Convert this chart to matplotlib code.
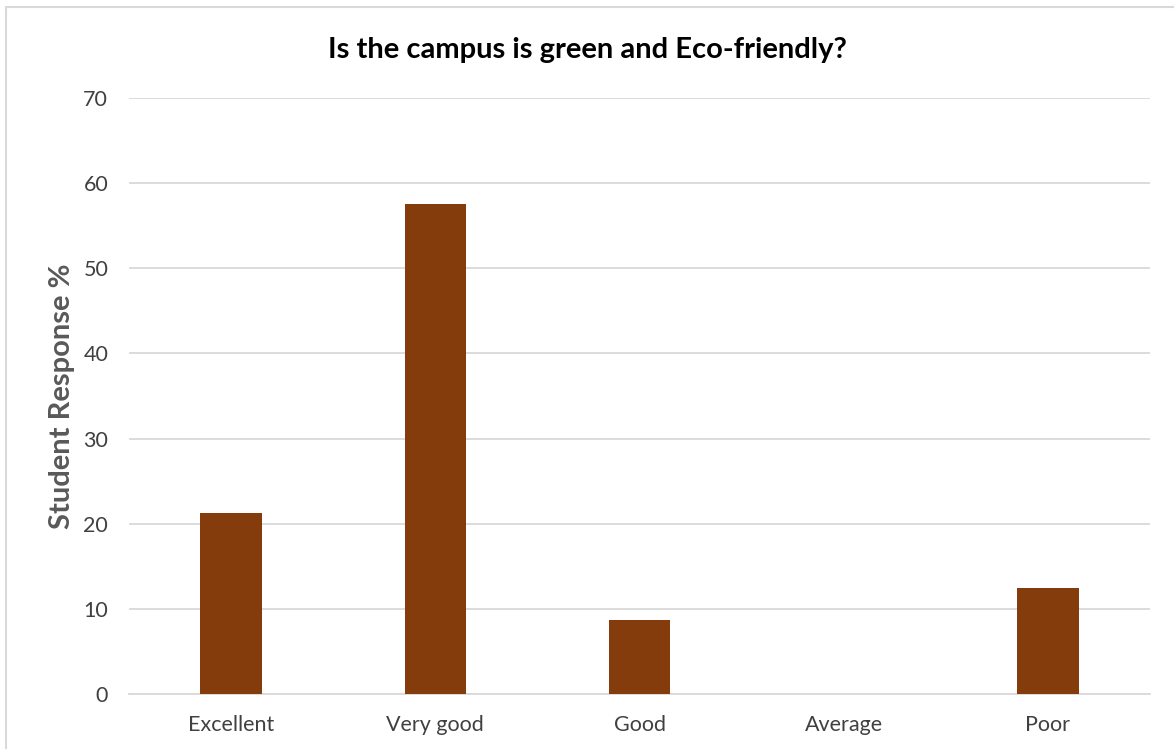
import matplotlib.pyplot as plt
from matplotlib.patches import Rectangle

categories = ['Excellent', 'Very good', 'Good', 'Average', 'Poor']
responses = [21.3, 57.5, 8.7, 0, 12.5]
yticks = [0, 10, 20, 30, 40, 50, 60, 70]

plt.rcParams['font.family'] = ['Lato', 'DejaVu Sans']

fig = plt.figure(figsize=(11.74, 7.49), dpi=100)
ax = fig.add_axes([0.1099, 0.0734, 0.8697, 0.7958])

x_pos = range(len(categories))
ax.bar(x_pos, responses, width=0.3, color='#843C0C', zorder=3)

ax.set_xlim(-0.5, len(categories) - 0.5)
ax.set_ylim(0, 70)
ax.set_yticks(yticks)
ax.set_xticks(list(x_pos))
ax.set_xticklabels(categories)
ax.yaxis.grid(True, color='#D9D9D9', linewidth=1.3, zorder=0)
for s in ['top', 'right', 'left']:
    ax.spines[s].set_visible(False)
ax.spines['bottom'].set_color('#D9D9D9')
ax.spines['bottom'].set_linewidth(1.3)
ax.tick_params(axis='both', length=0, labelsize=15.5, labelcolor='#404040')
ax.tick_params(axis='y', pad=15)
ax.tick_params(axis='x', pad=15)

ax.set_ylabel('Student Response %', fontsize=21, fontweight='bold', color='#595959', labelpad=6)
fig.text(0.5, 0.933, 'Is the campus is green and Eco-friendly?', ha='center', va='center',
         fontsize=21, fontweight='bold', color='black')

# chart border
fig.patches.append(Rectangle((6 / 1174, -0.05), 1.2, 1 - 7 / 749 + 0.05, transform=fig.transFigure,
                             fill=False, edgecolor='#D9D9D9', linewidth=1.5))

fig.savefig('out.png', dpi=100)
